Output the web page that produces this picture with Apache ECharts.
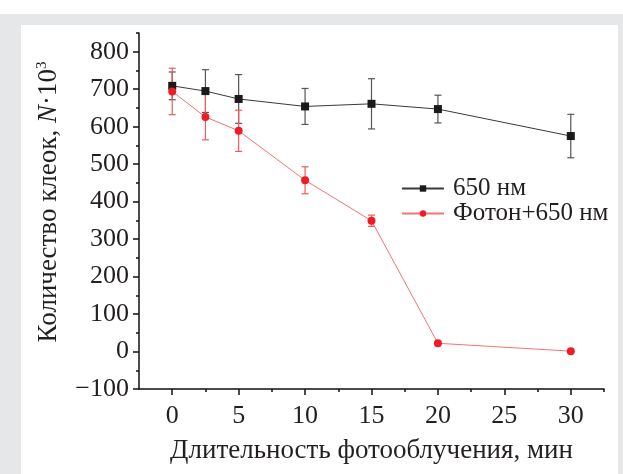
<!DOCTYPE html>
<html><head><meta charset="utf-8">
<script src="https://cdn.jsdelivr.net/npm/echarts@6/dist/echarts.min.js"></script>
<style>html,body{margin:0;padding:0;background:#fff}#c{width:623px;height:474px}</style>
</head><body><div id="c"></div>
<script>
// Data
var times = [0, 2.5, 5, 10, 15, 20, 30];
var seriesNames = ['650 нм', 'Фотон+650 нм'];
var black = [709, 695, 674, 654, 661, 647, 575];
var blackErr = [37, 57, 65, 48, 67, 37, 58];
var red = [694, 626, 589, 457, 349, 22, 1];
var redErr = [62, 61, 55, 36, 15, 0, 0];
var xMajor = [0, 5, 10, 15, 20, 25, 30];
var xMinor = [2.5, 7.5, 12.5, 17.5, 22.5, 27.5, 32.5];
var yMajor = [-100, 0, 100, 200, 300, 400, 500, 600, 700, 800];
var yMinor = [-50, 50, 150, 250, 350, 450, 550, 650, 750, 850];

var FONT = '"Liberation Serif", "Times New Roman", serif';
var TXT = '#231f20';
var BLK = '#1a1a1a', BLK_LINE = '#3a3a3a', BLK_ERR = '#555555';
var RED = '#ee1c25', RED_LINE = '#f47474', RED_ERR = '#f05a5a';

function pairs(xs, ys) { return xs.map(function (x, i) { return [x, ys[i]]; }); }
function errData(xs, ys, es) {
  var out = [];
  xs.forEach(function (x, i) { if (es[i] > 0) out.push([x, ys[i] - es[i], ys[i] + es[i]]); });
  return out;
}
function errRender(color) {
  return function (params, api) {
    var x = api.value(0);
    var lo = api.coord([x, api.value(1)]);
    var hi = api.coord([x, api.value(2)]);
    var w = 3.5;
    var st = { stroke: color, lineWidth: 1.2 };
    return { type: 'group', children: [
      { type: 'line', shape: { x1: lo[0], y1: lo[1], x2: hi[0], y2: hi[1] }, style: st },
      { type: 'line', shape: { x1: lo[0] - w, y1: lo[1], x2: lo[0] + w, y2: lo[1] }, style: st },
      { type: 'line', shape: { x1: hi[0] - w, y1: hi[1], x2: hi[0] + w, y2: hi[1] }, style: st }
    ]};
  };
}

var chart = echarts.init(document.getElementById('c'), null, { renderer: 'canvas' });
chart.setOption({
  animation: false,
  backgroundColor: '#ffffff',
  graphic: [
    { type: 'rect', z: -10, shape: { x: 0, y: 14, width: 623, height: 460 }, style: { fill: '#e6e7e8' } },
    { type: 'rect', z: -9, shape: { x: 21, y: 25, width: 597, height: 449 }, style: { fill: '#ffffff' } }
  ],
  grid: { left: 139, right: 19, top: 33, bottom: 85, containLabel: false, outerBoundsMode: 'none' },
  legend: {
    orient: 'vertical', left: 396, top: 171,
    itemWidth: 42, itemHeight: 8, itemGap: 0,
    textStyle: { fontFamily: FONT, fontSize: 25, lineHeight: 23, color: TXT, padding: [0, 0, 0, 4] },
    data: seriesNames
  },
  xAxis: [{
    type: 'value', min: -2.5, max: 32.5, interval: 2.5,
    name: 'Длительность фотооблучения, мин', nameLocation: 'middle', nameGap: 48,
    nameTextStyle: { fontFamily: FONT, fontSize: 27, color: TXT },
    axisLine: { show: true, onZero: false, lineStyle: { color: '#111', width: 1.5 } },
    axisTick: { show: true, inside: false, length: 6, customValues: xMajor, lineStyle: { color: '#111', width: 1.5 } },
    axisLabel: { margin: 14, customValues: xMajor, fontFamily: FONT, fontSize: 26, color: TXT },
    splitLine: { show: false }
  }, {
    type: 'value', min: -2.5, max: 32.5, position: 'bottom',
    axisLine: { show: false, onZero: false },
    axisTick: { show: true, inside: false, length: 3, customValues: xMinor, lineStyle: { color: '#111', width: 1.5 } },
    axisLabel: { show: false }, splitLine: { show: false }
  }],
  yAxis: [{
    type: 'value', min: -100, max: 850, interval: 50,
    name: '{a|Количество клеок, }{i|N}{a|·10}{s|3}', nameLocation: 'middle', nameGap: 76, nameRotate: 90,
    nameTextStyle: { fontFamily: FONT, fontSize: 27, color: TXT, padding: [0, 0, 0, 18],
      rich: {
        a: { fontFamily: FONT, fontSize: 27, color: TXT },
        i: { fontFamily: FONT, fontSize: 27, color: TXT, fontStyle: 'italic' },
        s: { fontFamily: FONT, fontSize: 15, color: TXT, padding: [0, 0, 13, 0] }
      } },
    axisLine: { show: true, onZero: false, lineStyle: { color: '#111', width: 1.5 } },
    axisTick: { show: true, inside: false, length: 6, customValues: yMajor, lineStyle: { color: '#111', width: 1.5 } },
    axisLabel: { margin: 10, customValues: yMajor, fontFamily: FONT, fontSize: 26, color: TXT,
      formatter: function (v) { return v < 0 ? '\u2212' + Math.abs(v) : String(v); } },
    splitLine: { show: false }
  }, {
    type: 'value', min: -100, max: 850, position: 'left',
    axisLine: { show: false, onZero: false },
    axisTick: { show: true, inside: false, length: 3, customValues: yMinor, lineStyle: { color: '#111', width: 1.5 } },
    axisLabel: { show: false }, splitLine: { show: false }
  }],
  series: [
    { name: seriesNames[0] + '_err', type: 'custom', renderItem: errRender(BLK_ERR), data: errData(times, black, blackErr), z: 2, silent: true },
    { name: seriesNames[1] + '_err', type: 'custom', renderItem: errRender(RED_ERR), data: errData(times, red, redErr), z: 2, silent: true },
    { name: seriesNames[0], type: 'line', data: pairs(times, black), symbol: 'rect', symbolSize: 8,
      itemStyle: { color: BLK }, lineStyle: { color: BLK_LINE, width: 1 }, z: 3 },
    { name: seriesNames[1], type: 'line', data: pairs(times, red), symbol: 'circle', symbolSize: 8,
      itemStyle: { color: RED }, lineStyle: { color: RED_LINE, width: 1 }, z: 4 }
  ]
});
</script></body></html>
